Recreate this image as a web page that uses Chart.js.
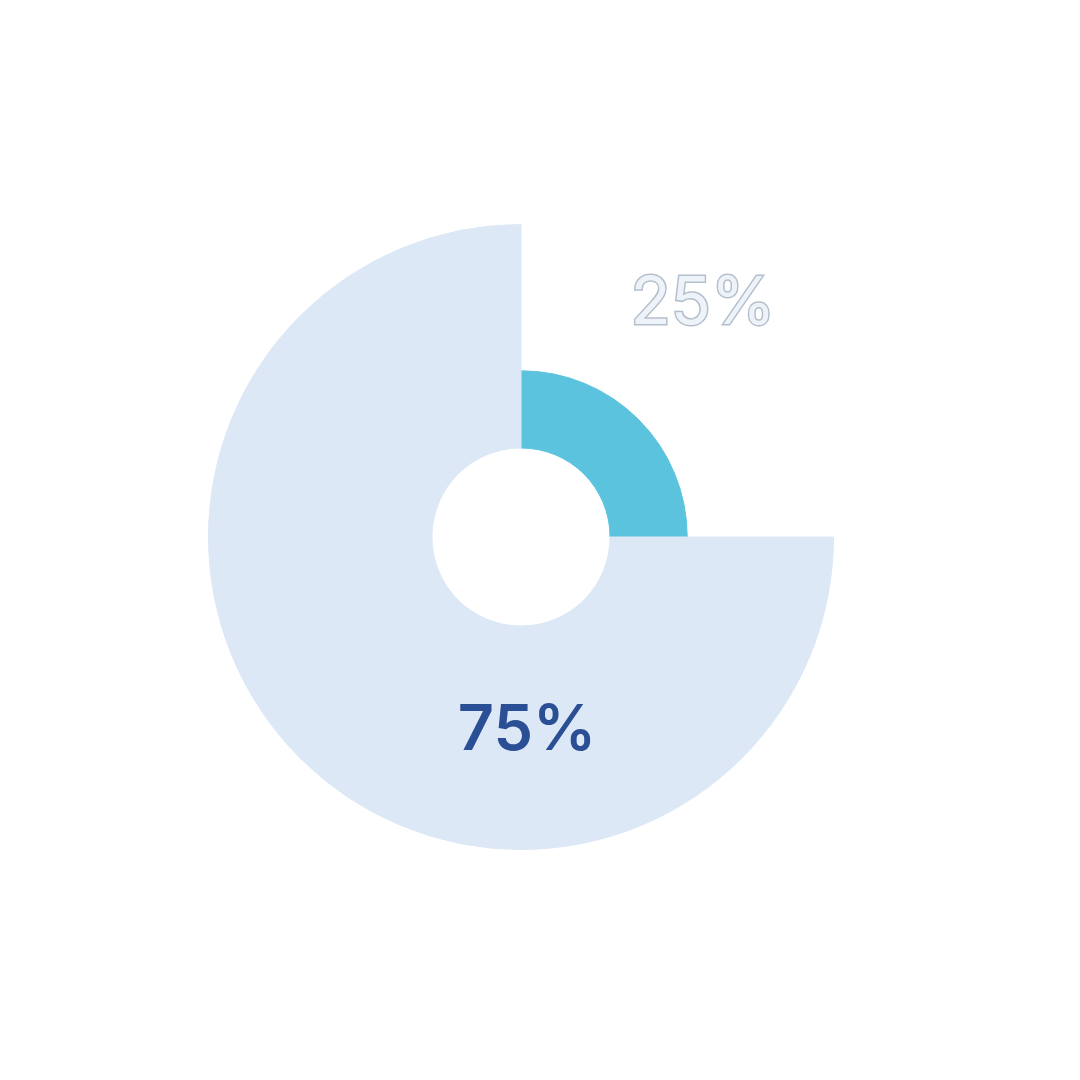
<!DOCTYPE html>
<html>
<head>
<meta charset="utf-8">
<script src="https://cdn.jsdelivr.net/npm/chart.js@4/dist/chart.umd.min.js"></script>
<style>
  html,body{margin:0;padding:0;background:#ffffff;}
  #wrap{position:absolute;left:208px;top:222px;width:626px;height:630px;}
</style>
</head>
<body>
<div id="wrap"><canvas id="c"></canvas></div>
<script>
const categories = ['Segment A', 'Segment B'];
const shareValues = [25, 75];
const valueLabels = ['25%', '75%'];

const lightBlue = '#dce8f5';
const cyan = '#5cc3df';

const labelPlugin = {
  id: 'labels',
  afterDatasetsDraw(chart) {
    const ctx = chart.ctx;
    const arc = chart.getDatasetMeta(1).data[0];
    const cx = arc.x, cy = arc.y;
    ctx.save();
    ctx.textAlign = 'center';
    ctx.textBaseline = 'middle';
    // 75% label
    ctx.font = '600 63px Inter, "Open Sans", sans-serif';
    ctx.fillStyle = '#2b4f95';
    ctx.fillText(valueLabels[1], cx + 6, cy + 194);
    // 25% label (outlined, light)
    ctx.font = '400 66px Inter, "Open Sans", sans-serif';
    ctx.lineWidth = 3;
    ctx.strokeStyle = '#b4bfcc';
    ctx.fillStyle = '#eef3f9';
    ctx.strokeText(valueLabels[0], cx + 182, cy - 233);
    ctx.fillText(valueLabels[0], cx + 182, cy - 233);
    ctx.restore();
  }
};

new Chart(document.getElementById('c'), {
  type: 'doughnut',
  data: {
    labels: categories,
    datasets: [
      {
        data: shareValues,
        backgroundColor: ['rgba(0,0,0,0)', lightBlue],
        borderColor: ['rgba(0,0,0,0)', lightBlue],
        borderWidth: [0, 1],
        weight: 146
      },
      {
        data: shareValues,
        backgroundColor: [cyan, lightBlue],
        borderColor: [cyan, lightBlue],
        borderWidth: 1,
        weight: 77
      }
    ]
  },
  options: {
    responsive: true,
    maintainAspectRatio: false,
    animation: false,
    cutout: '28.5%',
    rotation: 0,
    layout: { padding: 0 },
    plugins: {
      legend: { display: false },
      tooltip: { enabled: false }
    }
  },
  plugins: [labelPlugin]
});
</script>
</body>
</html>
